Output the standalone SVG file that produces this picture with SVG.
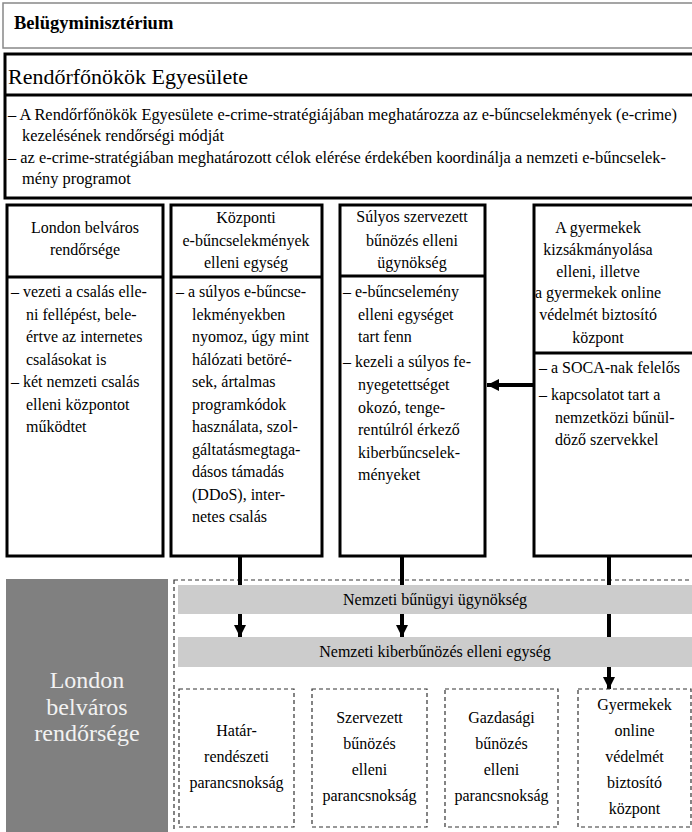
<svg xmlns="http://www.w3.org/2000/svg" width="692" height="832" viewBox="0 0 692 832" font-family="'Liberation Serif', 'DejaVu Serif', serif">
<style>
text{font-family:'Liberation Serif','DejaVu Serif',serif;fill:#000}
.t16{font-size:16px}
.c{text-anchor:middle}
.box{fill:#fff;stroke:#000;stroke-width:3}
.div{stroke:#000;stroke-width:3}
.band{fill:#cccccc}
.dash{fill:none;stroke:#333;stroke-width:1.2;stroke-dasharray:4 3}
.conn{stroke:#000;stroke-width:4;fill:none}
.wt{fill:#f2f2f2;font-size:24px}
</style>
<defs>
<marker id="ah" viewBox="0 0 10 10" refX="10" refY="5" markerWidth="3" markerHeight="5.5" orient="auto" markerUnits="strokeWidth">
<path d="M0,0 L10,5 L0,10 Z" fill="#000"/>
</marker>
</defs>
<rect width="692" height="832" fill="#fff"/>

<g id="belugy">
<rect x="3" y="3" width="690" height="45" fill="#fff" stroke="#888" stroke-width="1.5"/>
<text x="14" y="29" style="font-size:18.5px;font-weight:bold">Belügyminisztérium</text>
</g>

<g id="rendorfonokok">
<rect x="5" y="54" width="690" height="144" class="box"/>
<line x1="5" y1="95" x2="692" y2="95" class="div"/>
<text x="8" y="84" style="font-size:22px">Rendőrfőnökök Egyesülete</text>
<g style="font-size:16.4px">
<text x="8" y="120">– A Rendőrfőnökök Egyesülete e-crime-stratégiájában meghatározza az e-bűncselekmények (e-crime)</text>
<text x="22" y="141">kezelésének rendőrségi módját</text>
<text x="8" y="163">– az e-crime-stratégiában meghatározott célok elérése érdekében koordinálja a nemzeti e-bűncselek-</text>
<text x="22" y="184">mény programot</text>
</g>
</g>

<g id="london-col">
<rect x="7" y="205" width="156" height="351" class="box"/>
<line x1="7" y1="277" x2="163" y2="277" class="div"/>
<g class="t16">
<text x="85" y="233" class="c">London belváros</text>
<text x="85" y="255" class="c">rendőrsége</text>
<text x="11" y="297">– vezeti a csalás elle-</text>
<text x="26" y="319.5">ni fellépést, bele-</text>
<text x="26" y="342">értve az internetes</text>
<text x="26" y="364.5">csalásokat is</text>
<text x="11" y="387">– két nemzeti csalás</text>
<text x="26" y="409.5">elleni központot</text>
<text x="26" y="432">működtet</text>
</g>
</g>

<g id="kozponti">
<rect x="171" y="205" width="151" height="351" class="box"/>
<line x1="171" y1="277" x2="322" y2="277" class="div"/>
<g class="t16">
<text x="246" y="223" class="c">Központi</text>
<text x="246" y="246" class="c">e-bűncselekmények</text>
<text x="246" y="268" class="c">elleni egység</text>
<text x="176" y="297">– a súlyos e-bűncse-</text>
<text x="192" y="319.5">lekményekben</text>
<text x="192" y="342">nyomoz, úgy mint</text>
<text x="192" y="364.5">hálózati betöré-</text>
<text x="192" y="387">sek, ártalmas</text>
<text x="192" y="409.5">programkódok</text>
<text x="192" y="432">használata, szol-</text>
<text x="192" y="454.5">gáltatásmegtaga-</text>
<text x="192" y="477">dásos támadás</text>
<text x="192" y="499.5">(DDoS), inter-</text>
<text x="192" y="522">netes csalás</text>
</g>
</g>

<g id="soca">
<rect x="340" y="205" width="145" height="351" class="box"/>
<line x1="340" y1="276" x2="485" y2="276" class="div"/>
<g class="t16">
<text x="412" y="222" class="c">Súlyos szervezett</text>
<text x="412" y="246" class="c">bűnözés elleni</text>
<text x="412" y="268" class="c">ügynökség</text>
<text x="343" y="297">– e-bűncselemény</text>
<text x="358" y="319.5">elleni egységet</text>
<text x="358" y="342">tart fenn</text>
<text x="343" y="367">– kezeli a súlyos fe-</text>
<text x="358" y="390">nyegetettséget</text>
<text x="358" y="412.5">okozó, tenge-</text>
<text x="358" y="435">rentúlról érkező</text>
<text x="358" y="457.5">kiberbűncselek-</text>
<text x="358" y="480">ményeket</text>
</g>
</g>

<g id="ceop">
<rect x="534" y="205" width="170" height="351" class="box"/>
<line x1="534" y1="353" x2="692" y2="353" class="div"/>
<g class="t16">
<text x="598" y="233" class="c">A gyermekek</text>
<text x="598" y="255" class="c">kizsákmányolása</text>
<text x="598" y="277" class="c">elleni, illetve</text>
<text x="598" y="298" class="c">a gyermekek online</text>
<text x="598" y="320" class="c">védelmét biztosító</text>
<text x="598" y="343" class="c">központ</text>
<text x="539" y="373">– a SOCA-nak felelős</text>
<text x="539" y="400">– kapcsolatot tart a</text>
<text x="555" y="423">nemzetközi bűnül-</text>
<text x="555" y="445">döző szervekkel</text>
</g>
</g>

<g id="london-block">
<rect x="6" y="579" width="162" height="260" fill="#808080"/>
<text x="87" y="688" class="c wt">London</text>
<text x="87" y="715" class="c wt">belváros</text>
<text x="87" y="741" class="c wt">rendőrsége</text>
</g>

<g id="nca-region">
<rect x="174" y="580" width="530" height="270" class="dash"/>
</g>

<g id="connectors">
<line x1="240" y1="556" x2="240" y2="637" class="conn" marker-end="url(#ah)"/>
<line x1="402" y1="556" x2="402" y2="637" class="conn" marker-end="url(#ah)"/>
<line x1="609" y1="556" x2="609" y2="689" class="conn" marker-end="url(#ah)"/>
<line x1="534" y1="385" x2="487" y2="385" class="conn" marker-end="url(#ah)"/>
</g>

<g id="nca">
<rect x="178" y="585" width="520" height="29" class="band"/>
<text x="435" y="605" class="t16 c">Nemzeti bűnügyi ügynökség</text>
</g>

<g id="nccu">
<rect x="178" y="637" width="520" height="30" class="band"/>
<text x="435" y="657" class="t16 c">Nemzeti kiberbűnözés elleni egység</text>
</g>

<g id="hatar">
<rect x="179" y="689" width="115" height="138" class="dash" style="fill:#fff"/>
<g class="t16">
<text x="236.5" y="736" class="c">Határ-</text>
<text x="236.5" y="762" class="c">rendészeti</text>
<text x="236.5" y="788" class="c">parancsnokság</text>
</g>
</g>

<g id="szervezett">
<rect x="312" y="689" width="115" height="138" class="dash" style="fill:#fff"/>
<g class="t16">
<text x="369.5" y="723" class="c">Szervezett</text>
<text x="369.5" y="749" class="c">bűnözés</text>
<text x="369.5" y="775" class="c">elleni</text>
<text x="369.5" y="801" class="c">parancsnokság</text>
</g>
</g>

<g id="gazdasagi">
<rect x="445" y="689" width="113" height="138" class="dash" style="fill:#fff"/>
<g class="t16">
<text x="501.5" y="723" class="c">Gazdasági</text>
<text x="501.5" y="749" class="c">bűnözés</text>
<text x="501.5" y="775" class="c">elleni</text>
<text x="501.5" y="801" class="c">parancsnokság</text>
</g>
</g>

<g id="gyermekek">
<rect x="578" y="689" width="113" height="138" class="dash" style="fill:#fff"/>
<g class="t16">
<text x="634.5" y="710" class="c">Gyermekek</text>
<text x="634.5" y="736" class="c">online</text>
<text x="634.5" y="762" class="c">védelmét</text>
<text x="634.5" y="788" class="c">biztosító</text>
<text x="634.5" y="814" class="c">központ</text>
</g>
</g>
</svg>
